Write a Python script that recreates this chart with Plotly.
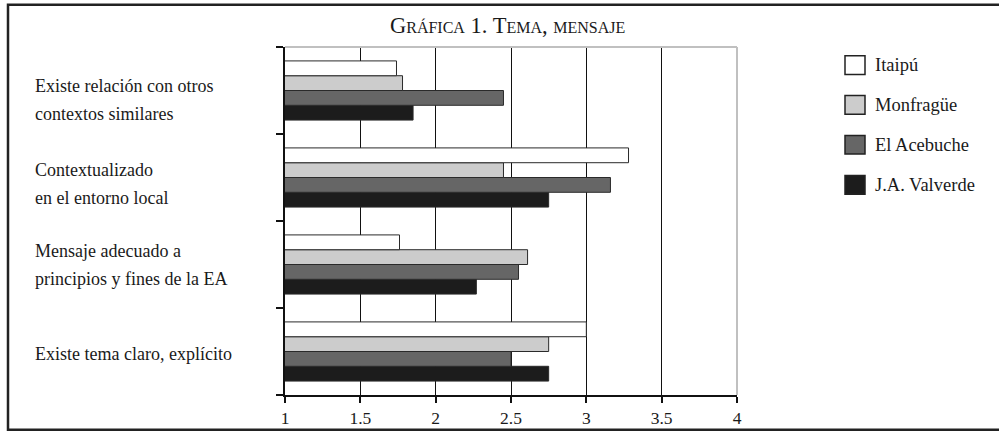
import plotly.graph_objects as go

# Categories, listed from the bottom of the chart to the top
categories = [
    "Existe tema claro, explícito",
    "Mensaje adecuado a<br>principios y fines de la EA",
    "Contextualizado<br>en el entorno local",
    "Existe relación con otros<br>contextos similares",
]

# Series (legend order)
series_names = ["Itaipú", "Monfragüe", "El Acebuche", "J.A. Valverde"]
itaipu = [3.00, 1.76, 3.28, 1.74]
monfrague = [2.75, 2.61, 2.45, 1.78]
acebuche = [2.50, 2.55, 3.16, 2.45]
valverde = [2.75, 2.27, 2.75, 1.85]
series_values = [itaipu, monfrague, acebuche, valverde]
series_colors = ["#ffffff", "#cccccc", "#666666", "#1c1c1c"]

x_ticks = [1, 1.5, 2, 2.5, 3, 3.5, 4]
x_tick_labels = ["1", "1.5", "2", "2.5", "3", "3.5", "4"]

title_text = "Gráfica 1. Tema, mensaje"

# ---- layout geometry (pixels) ----
W, H = 999, 440
PLOT_L, PLOT_R, PLOT_T, PLOT_B = 285, 737, 47, 402
FONT = "Liberation Serif"
INK = "#1a1a1a"


def px_x(px):
    return (px - PLOT_L) / (PLOT_R - PLOT_L)


def px_y(py):
    return (PLOT_B - py) / (PLOT_B - PLOT_T)


fig = go.Figure()

# Plotly stacks horizontal groups bottom-up, so add the last series first
for name, vals, col in reversed(list(zip(series_names, series_values, series_colors))):
    fig.add_trace(go.Bar(
        name=name, x=vals, y=categories, orientation="h",
        marker=dict(color=col, line=dict(color="#2a2a2a", width=1)),
        showlegend=False, hoverinfo="x+name",
    ))

shapes = []
annotations = []

# outer frame around the whole graphic
shapes.append(dict(type="rect", xref="paper", yref="paper",
                   x0=px_x(8), x1=px_x(1004), y0=px_y(437.5), y1=px_y(4),
                   line=dict(color="#222222", width=2.5), layer="below"))
# light grey top and right edges of the plotting area
shapes.append(dict(type="line", xref="paper", yref="paper", x0=0, x1=1, y0=1, y1=1,
                   line=dict(color="#c0c0c0", width=2), layer="above"))
shapes.append(dict(type="line", xref="paper", yref="paper", x0=1, x1=1, y0=0, y1=1,
                   line=dict(color="#c0c0c0", width=2), layer="above"))

# category labels, left aligned, one annotation per line
label_nudge = [2, 0, 6, 9]
line_gap = 28
for cat, nudge in zip(categories, label_nudge):
    lines = cat.split("<br>")
    n = len(lines)
    for i, ln in enumerate(lines):
        offset = (i - (n - 1) / 2) * line_gap + nudge
        annotations.append(dict(
            text=ln, xref="paper", yref="y", x=px_x(33), y=cat,
            xanchor="left", yanchor="middle", yshift=-offset, showarrow=False,
            font=dict(family=FONT, size=18, color=INK),
        ))

# custom legend with large swatches
leg_y = [65.5, 106, 146.7, 187.7]
for name, col, yc in zip(series_names, series_colors, leg_y):
    shapes.append(dict(type="rect", xref="paper", yref="paper",
                       x0=px_x(845), x1=px_x(865), y0=px_y(yc + 9.5), y1=px_y(yc - 9.5),
                       fillcolor=col, line=dict(color="#222222", width=1.5)))
    annotations.append(dict(
        text=name, xref="paper", yref="paper", x=px_x(873), y=px_y(yc),
        xanchor="left", yanchor="middle", showarrow=False,
        font=dict(family=FONT, size=18.5, color=INK),
    ))

# title
annotations.append(dict(
    text=title_text, xref="paper", yref="paper", x=px_x(507), y=px_y(25),
    xanchor="center", yanchor="middle", showarrow=False,
    font=dict(family=FONT, size=22.5, color=INK, variant="small-caps"),
))

fig.update_layout(
    width=W, height=H, autosize=False,
    margin=dict(l=PLOT_L, r=W - PLOT_R, t=PLOT_T, b=H - PLOT_B, pad=0),
    paper_bgcolor="white", plot_bgcolor="white",
    barmode="group", bargap=0.32, bargroupgap=0,
    font=dict(family=FONT, size=18, color=INK),
    shapes=shapes, annotations=annotations,
    xaxis=dict(
        range=[1, 4], tickvals=x_ticks, ticktext=x_tick_labels,
        showgrid=True, gridcolor="#111111", gridwidth=1, zeroline=False,
        showline=True, linecolor="#111111", linewidth=2,
        ticks="outside", ticklen=6, tickwidth=2, tickcolor="#111111",
        tickfont=dict(family=FONT, size=17.5, color=INK),
    ),
    yaxis=dict(
        type="category", categoryorder="array", categoryarray=categories,
        showgrid=False, zeroline=False, showticklabels=False,
        showline=True, linecolor="#111111", linewidth=2,
        ticks="outside", ticklen=7, tickwidth=2, tickcolor="#111111",
        tickson="boundaries",
    ),
)

fig.write_html("out.html")
